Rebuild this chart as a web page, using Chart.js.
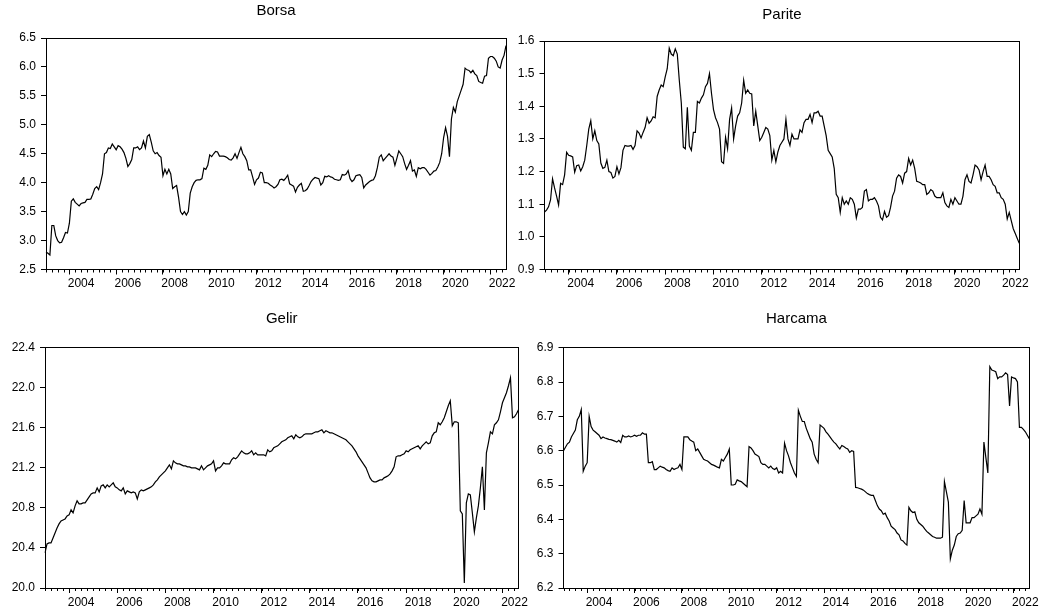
<!DOCTYPE html>
<html>
<head>
<meta charset="utf-8">
<script src="https://cdn.jsdelivr.net/npm/chart.js@4/dist/chart.umd.min.js"></script>
<style>
  html, body { margin: 0; padding: 0; background: #fff; }
  body { width: 1047px; height: 612px; position: relative; overflow: hidden; }
  canvas { position: absolute; }
</style>
</head>
<body>
<canvas id="cBorsa" width="520" height="300" style="left:0px;top:0px"></canvas>
<canvas id="cParite" width="537" height="300" style="left:510px;top:0px"></canvas>
<canvas id="cGelir" width="540" height="312" style="left:0px;top:300px"></canvas>
<canvas id="cHarcama" width="527" height="312" style="left:520px;top:300px"></canvas>
<script>
// Monthly sample 2003M01 - 2022M09
const months = [];
for (let y = 2003; y <= 2022; y++) {
  for (let m = 1; m <= 12; m++) {
    if (y === 2022 && m > 9) break;
    months.push(y + 'M' + String(m).padStart(2, '0'));
  }
}

const yearLabels = ['2004', '2006', '2008', '2010', '2012', '2014', '2016', '2018', '2020', '2022'];

const borsa = [
  2.80, 2.78, 2.75, 3.26, 3.26, 3.08, 3.00, 2.96, 2.97, 3.05, 3.14, 3.13,
  3.30, 3.68, 3.72, 3.66, 3.63, 3.60, 3.64, 3.65, 3.66, 3.71, 3.71, 3.72,
  3.80, 3.90, 3.93, 3.88, 4.00, 4.15, 4.50, 4.52, 4.60, 4.59, 4.67, 4.62,
  4.57, 4.64, 4.62, 4.58, 4.52, 4.42, 4.28, 4.33, 4.40, 4.60, 4.60, 4.62,
  4.57, 4.60, 4.72, 4.60, 4.80, 4.83, 4.70, 4.55, 4.50, 4.52, 4.47, 4.44,
  4.12, 4.23, 4.15, 4.23, 4.15, 3.90, 3.93, 3.95, 3.75, 3.50, 3.45, 3.50,
  3.44, 3.50, 3.82, 3.93, 4.00, 4.04, 4.05, 4.05, 4.07, 4.25, 4.23, 4.30,
  4.48, 4.45, 4.50, 4.54, 4.53, 4.46, 4.46, 4.46, 4.45, 4.43, 4.40, 4.39,
  4.43, 4.50, 4.42, 4.52, 4.61, 4.50, 4.45, 4.38, 4.22, 4.22, 4.10, 3.97,
  4.05, 4.08, 4.18, 4.17, 4.00, 4.00, 3.99, 3.96, 3.94, 3.91, 3.93, 3.97,
  4.05, 4.06, 4.04, 4.08, 4.13, 3.98, 3.96, 3.94, 3.84, 3.92, 3.96, 3.99,
  3.85, 3.86, 3.89, 3.95, 4.02, 4.06, 4.09, 4.08, 4.07, 3.96, 4.00, 4.11,
  4.10, 4.12, 4.10, 4.09, 4.06, 4.05, 4.04, 4.05, 4.14, 4.13, 4.15, 4.21,
  4.07, 4.02, 4.05, 4.12, 4.13, 4.14, 4.09, 3.91, 3.96, 3.99, 4.02, 4.04,
  4.05, 4.12, 4.26, 4.44, 4.48, 4.38, 4.42, 4.46, 4.50, 4.46, 4.44, 4.30,
  4.42, 4.55, 4.50, 4.45, 4.33, 4.23, 4.30, 4.38, 4.20, 4.22, 4.11, 4.26,
  4.24, 4.26, 4.26, 4.23, 4.18, 4.13, 4.16, 4.20, 4.21, 4.27, 4.35, 4.50,
  4.78, 4.95, 4.80, 4.45, 5.10, 5.30, 5.22, 5.40, 5.50, 5.60, 5.70, 5.98,
  5.95, 5.94, 5.90, 5.94, 5.88, 5.85, 5.75, 5.73, 5.72, 5.84, 5.85, 6.15,
  6.18, 6.18, 6.15, 6.10, 6.00, 5.98, 6.12, 6.20, 6.37
];

const parite = [
  1.076, 1.082, 1.092, 1.113, 1.178, 1.150, 1.125, 1.098, 1.164, 1.160, 1.190, 1.259,
  1.250, 1.248, 1.245, 1.198, 1.218, 1.220, 1.202, 1.215, 1.235, 1.280, 1.330, 1.356,
  1.300, 1.325, 1.295, 1.285, 1.226, 1.210, 1.213, 1.235, 1.200, 1.197, 1.180, 1.185,
  1.215, 1.193, 1.212, 1.265, 1.280, 1.278, 1.278, 1.280, 1.268, 1.280, 1.325, 1.318,
  1.303, 1.320, 1.335, 1.365, 1.348, 1.355, 1.368, 1.365, 1.430, 1.450, 1.465, 1.460,
  1.490, 1.515, 1.578, 1.560, 1.555, 1.576, 1.560, 1.480, 1.410, 1.275, 1.270, 1.397,
  1.278, 1.265, 1.320, 1.320, 1.415, 1.410, 1.425, 1.435, 1.460, 1.470, 1.500, 1.440,
  1.390, 1.365, 1.350, 1.330, 1.230, 1.225, 1.305, 1.270, 1.360, 1.395, 1.300, 1.340,
  1.370, 1.380, 1.410, 1.480, 1.440, 1.450, 1.440, 1.438, 1.340, 1.385, 1.340, 1.295,
  1.305, 1.320, 1.335, 1.330, 1.310, 1.235, 1.265, 1.230, 1.260, 1.280, 1.290, 1.300,
  1.360, 1.300, 1.280, 1.315, 1.300, 1.300, 1.300, 1.328, 1.320, 1.350, 1.360, 1.360,
  1.375, 1.350, 1.380, 1.380, 1.385, 1.370, 1.370, 1.340, 1.310, 1.265, 1.255, 1.245,
  1.210, 1.130, 1.120, 1.075, 1.120, 1.100, 1.110, 1.100, 1.120, 1.115, 1.100, 1.058,
  1.085, 1.085, 1.090, 1.140, 1.145, 1.110, 1.115, 1.115, 1.120, 1.110, 1.095, 1.060,
  1.052, 1.078, 1.060, 1.065, 1.090, 1.125, 1.140, 1.180, 1.190, 1.185, 1.165, 1.195,
  1.200, 1.240, 1.220, 1.235, 1.210, 1.170, 1.168, 1.165, 1.160, 1.160, 1.130, 1.135,
  1.145, 1.140, 1.125, 1.120, 1.120, 1.120, 1.135, 1.105, 1.095, 1.090, 1.115, 1.100,
  1.120, 1.110, 1.100, 1.100, 1.125, 1.175, 1.190, 1.170, 1.165, 1.190, 1.220, 1.215,
  1.205, 1.175, 1.200, 1.220, 1.185, 1.185, 1.175, 1.160, 1.155, 1.135, 1.135, 1.120,
  1.115, 1.100, 1.055, 1.075, 1.050, 1.025, 1.010, 0.995, 0.980
];

const gelir = [
  20.35, 20.44, 20.45, 20.45, 20.50, 20.55, 20.60, 20.64, 20.67, 20.68, 20.69, 20.72,
  20.73, 20.78, 20.75, 20.82, 20.87, 20.84, 20.84, 20.85, 20.85, 20.88, 20.91, 20.94,
  20.95, 20.95, 21.00, 20.96, 21.02, 21.03, 21.00, 21.03, 21.01, 21.03, 21.05, 21.01,
  21.00, 20.98, 20.97, 21.00, 20.94, 20.97, 20.96, 20.95, 20.96, 20.95, 20.89, 20.96,
  20.98, 20.97, 20.98, 20.99, 21.00, 21.01, 21.03, 21.06, 21.08, 21.11, 21.13, 21.15,
  21.17, 21.20, 21.23, 21.19, 21.27, 21.25, 21.24, 21.24, 21.23, 21.22, 21.22, 21.21,
  21.21, 21.20, 21.20, 21.20, 21.19, 21.18, 21.22, 21.18, 21.20, 21.22, 21.23, 21.24,
  21.27, 21.17, 21.20, 21.20, 21.22, 21.25, 21.24, 21.24, 21.24, 21.28, 21.30, 21.29,
  21.31, 21.34, 21.37, 21.35, 21.34, 21.34, 21.35, 21.37, 21.33, 21.35, 21.33, 21.33,
  21.33, 21.33, 21.32, 21.38, 21.36, 21.37, 21.40, 21.41, 21.42, 21.44, 21.46, 21.47,
  21.48, 21.50, 21.51, 21.52, 21.49, 21.53, 21.51, 21.50, 21.51, 21.53, 21.54, 21.54,
  21.54, 21.54, 21.55, 21.56, 21.56, 21.57, 21.58, 21.55, 21.57, 21.56, 21.55, 21.55,
  21.54, 21.53, 21.52, 21.51, 21.50, 21.49, 21.48, 21.46, 21.44, 21.42, 21.39, 21.36,
  21.32, 21.29, 21.26, 21.23, 21.20, 21.15, 21.10, 21.07, 21.06, 21.06, 21.07, 21.08,
  21.08, 21.10, 21.11, 21.12, 21.14, 21.17, 21.21, 21.31, 21.32, 21.32, 21.33, 21.34,
  21.37, 21.36, 21.38, 21.39, 21.40, 21.41, 21.42, 21.39, 21.42, 21.44, 21.46, 21.44,
  21.45, 21.52, 21.55, 21.56, 21.65, 21.63, 21.66, 21.70, 21.76, 21.82, 21.87, 21.62,
  21.66, 21.66, 21.65, 20.77, 20.74, 20.05, 20.85, 20.94, 20.93, 20.75, 20.56, 20.70,
  20.82, 21.00, 21.21, 20.78, 21.35, 21.45, 21.56, 21.54, 21.63, 21.65, 21.68, 21.76,
  21.85, 21.90, 21.95, 22.02, 22.10, 21.70, 21.71, 21.74, 21.78
];

const harcama = [
  6.600, 6.610, 6.620, 6.625, 6.640, 6.650, 6.660, 6.690, 6.700, 6.720, 6.540, 6.555,
  6.565, 6.700, 6.670, 6.660, 6.655, 6.650, 6.645, 6.635, 6.640, 6.637, 6.635, 6.633,
  6.632, 6.630, 6.628, 6.625, 6.630, 6.624, 6.645, 6.640, 6.640, 6.643, 6.640, 6.642,
  6.645, 6.642, 6.645, 6.645, 6.652, 6.648, 6.648, 6.565, 6.565, 6.568, 6.545, 6.545,
  6.550, 6.555, 6.552, 6.550, 6.545, 6.542, 6.540, 6.550, 6.545, 6.548, 6.550, 6.560,
  6.545, 6.640, 6.640, 6.640, 6.632, 6.628, 6.625, 6.600, 6.605, 6.595, 6.585, 6.575,
  6.572, 6.570, 6.565, 6.560, 6.558, 6.555, 6.552, 6.550, 6.575, 6.570, 6.580, 6.590,
  6.605, 6.500, 6.500, 6.502, 6.515, 6.512, 6.510, 6.505, 6.500, 6.495, 6.612, 6.608,
  6.600, 6.590, 6.587, 6.583, 6.565, 6.560, 6.560, 6.555, 6.550, 6.555, 6.548, 6.545,
  6.550, 6.535, 6.540, 6.535, 6.622, 6.600, 6.585, 6.565, 6.550, 6.535, 6.525, 6.718,
  6.700, 6.685, 6.685, 6.665, 6.650, 6.635, 6.625, 6.590, 6.575, 6.565, 6.675, 6.670,
  6.665, 6.655, 6.648, 6.640, 6.632, 6.625, 6.620, 6.612, 6.605, 6.615, 6.612, 6.608,
  6.605, 6.595, 6.600, 6.598, 6.493, 6.492, 6.490, 6.488, 6.485, 6.480, 6.475, 6.472,
  6.470, 6.470, 6.455, 6.440, 6.430, 6.425, 6.415, 6.418, 6.405, 6.395, 6.380, 6.375,
  6.370, 6.360, 6.355, 6.340, 6.337, 6.330, 6.325, 6.435, 6.425, 6.420, 6.422, 6.400,
  6.390, 6.385, 6.380, 6.372, 6.365, 6.360, 6.355, 6.350, 6.348, 6.345, 6.345, 6.345,
  6.348, 6.510, 6.480, 6.450, 6.285, 6.310, 6.325, 6.350, 6.358, 6.360, 6.368, 6.455,
  6.390, 6.390, 6.390, 6.405, 6.405, 6.410, 6.415, 6.430, 6.415, 6.625, 6.580, 6.535,
  6.845, 6.835, 6.833, 6.830, 6.810, 6.815, 6.815, 6.820, 6.827, 6.822, 6.730, 6.815,
  6.812, 6.810, 6.800, 6.668, 6.668, 6.662, 6.655, 6.645, 6.635
];

const borsaTicks = [2.5, 3.0, 3.5, 4.0, 4.5, 5.0, 5.5, 6.0, 6.5];
const pariteTicks = [0.9, 1.0, 1.1, 1.2, 1.3, 1.4, 1.5, 1.6];
const gelirTicks = [20.0, 20.4, 20.8, 21.2, 21.6, 22.0, 22.4];
const harcamaTicks = [6.2, 6.3, 6.4, 6.5, 6.6, 6.7, 6.8, 6.9];

const FONT = "'Liberation Sans', Arial, Helvetica, sans-serif";
const TICK_SIZE = 12;
const TITLE_SIZE = 15;
const TITLE_LH = 1.2;

// short quarterly marks along the date axis
const quarterTicks = {
  id: 'quarterTicks',
  afterDraw(chart) {
    const xs = chart.scales.x;
    const y0 = chart.chartArea.bottom;
    const ctx = chart.ctx;
    ctx.save();
    ctx.strokeStyle = '#000';
    ctx.lineWidth = 1;
    ctx.beginPath();
    for (let i = 0; i < months.length; i += 3) {
      const px = Math.round(xs.getPixelForValue(i)) + 0.5;
      ctx.moveTo(px, y0);
      ctx.lineTo(px, y0 + 3);
    }
    ctx.stroke();
    ctx.restore();
  }
};

function makePanel(canvasId, title, values, yTicks, g) {
  const canvas = document.getElementById(canvasId);
  const W = canvas.width, H = canvas.height;
  const halfYear = (g.right - g.left) / (months.length - 1) * 6;
  const titleBox = TITLE_SIZE * TITLE_LH;
  const padTop = g.titleY - titleBox / 2;
  const padBottom = g.top - padTop - titleBox;
  const frame = { display: true, color: '#000', width: 1 };

  return new Chart(canvas, {
    type: 'line',
    data: {
      labels: months,
      datasets: [{
        data: values,
        xAxisID: 'x',
        yAxisID: 'y',
        borderColor: '#000',
        borderWidth: 1.2,
        pointRadius: 0,
        tension: 0,
        fill: false
      }]
    },
    options: {
      responsive: false,
      animation: false,
      devicePixelRatio: 1,
      layout: { padding: { left: 0, top: 0, right: W - g.right, bottom: 0 } },
      plugins: {
        legend: { display: false },
        tooltip: { enabled: false },
        title: {
          display: true,
          text: title,
          fullSize: false,
          color: '#000',
          font: { family: FONT, size: TITLE_SIZE, weight: 'normal', lineHeight: TITLE_LH },
          padding: { top: padTop, bottom: padBottom }
        }
      },
      scales: {
        x: {
          type: 'category',
          position: 'bottom',
          offset: false,
          grid: { drawOnChartArea: false, drawTicks: true, tickLength: 5, tickColor: '#000', tickWidth: 1 },
          border: frame,
          ticks: {
            autoSkip: false, maxRotation: 0, minRotation: 0,
            padding: 2, labelOffset: halfYear, color: '#000',
            font: { family: FONT, size: TICK_SIZE },
            callback: (v) => months[v].slice(0, 4)
          },
          afterBuildTicks: (s) => { s.ticks = yearLabels.map(y => ({ value: months.indexOf(y + 'M01') })); },
          afterFit: (s) => { s.height = H - g.bottom; }
        },
        y: {
          type: 'linear',
          position: 'left',
          min: yTicks[0],
          max: yTicks[yTicks.length - 1],
          grid: { drawOnChartArea: false, drawTicks: true, tickLength: 5, tickColor: '#000', tickWidth: 1 },
          border: frame,
          ticks: {
            padding: 5, color: '#000',
            font: { family: FONT, size: TICK_SIZE },
            callback: (v) => Number(v).toFixed(1)
          },
          afterBuildTicks: (s) => { s.ticks = yTicks.map(v => ({ value: v })); },
          afterFit: (s) => { s.width = g.left; }
        },
        xTop: {
          type: 'linear', position: 'top',
          grid: { display: false }, ticks: { display: false }, border: frame,
          afterFit: (s) => { s.height = 0; }
        },
        yRight: {
          type: 'linear', position: 'right',
          grid: { display: false }, ticks: { display: false }, border: frame,
          afterFit: (s) => { s.width = 0; }
        }
      }
    },
    plugins: [quarterTicks]
  });
}

makePanel('cBorsa', 'Borsa', borsa, borsaTicks, { left: 46, right: 506, top: 38, bottom: 269.5, titleY: 11 });
makePanel('cParite', 'Parite', parite, pariteTicks, { left: 34.5, right: 509.3, top: 41, bottom: 269.5, titleY: 15 });
makePanel('cGelir', 'Gelir', gelir, gelirTicks, { left: 45, right: 518.5, top: 47.7, bottom: 288, titleY: 19.3 });
makePanel('cHarcama', 'Harcama', harcama, harcamaTicks, { left: 43.5, right: 509.3, top: 47.7, bottom: 288, titleY: 19.3 });
</script>
</body>
</html>
